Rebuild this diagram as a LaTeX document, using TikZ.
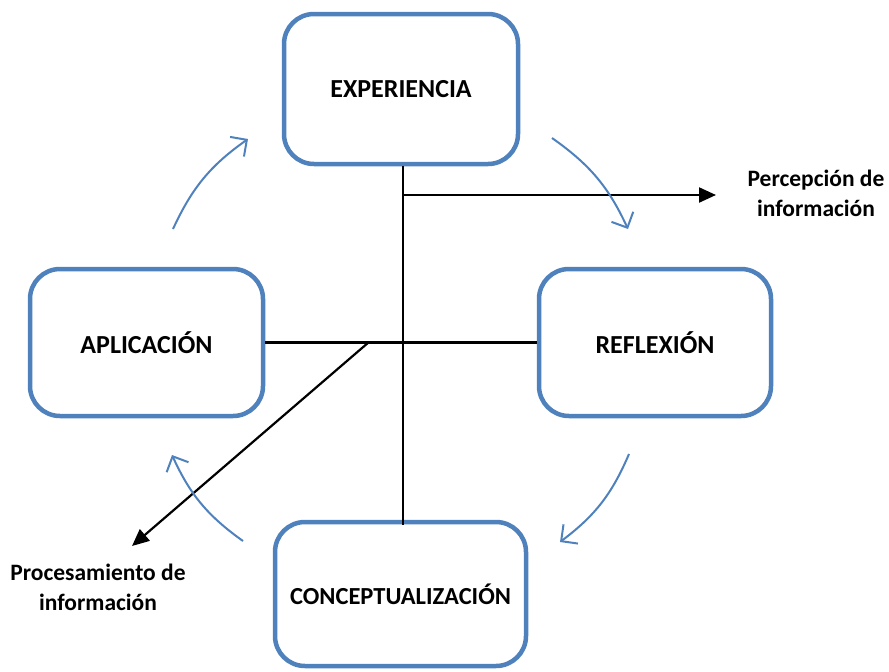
\documentclass[tikz,border=0pt]{standalone}
\usepackage{fontspec}
\setmainfont{Carlito}
\usetikzlibrary{arrows.meta}
\definecolor{boxblue}{RGB}{79,129,189}
\tikzset{
  stagebox/.style={draw=boxblue, line width=4.5pt, rounded corners=30pt, inner sep=0pt,
    font=\fontsize{26}{30}\selectfont\bfseries, fill=white},
  cyclearrow/.style={draw=boxblue, line width=2pt, -{Straight Barb[length=12pt,width=24pt,line width=2pt]}},
  axisline/.style={draw=black, line width=2.2pt},
  outarrow/.style={draw=black, line width=2.2pt, -{Triangle[length=17pt,width=15pt]}},
  sidelabel/.style={font=\fontsize{23.5}{30}\selectfont\bfseries, align=center}
}
\begin{document}
\begin{tikzpicture}[x=1pt,y=-1pt]
\useasboundingbox (0,0) rectangle (889,672);
% boxes
\node[stagebox, minimum width=234pt, minimum height=150pt] (exp) at (401,89) {EXPERIENCIA};
\node[stagebox, minimum width=232pt, minimum height=147pt] (ref) at (655,342.5) {REFLEXIÓN};
\node[stagebox, minimum width=233pt, minimum height=147pt] (apl) at (146.5,342.5) {APLICACIÓN};
\node[stagebox, minimum width=251pt, minimum height=144pt, font=\fontsize{24.5}{30}\selectfont\bfseries] (con) at (400.5,594) {CONCEPTUALIZACIÓN};
% labels
\node[sidelabel] (perc) at (816,193) {Percepción de\\información};
\node[sidelabel] (proc) at (98,587) {Procesamiento de\\información};
% axes
\coordinate (vtop) at (exp.south -| 403,0);
\coordinate (vbot) at (403,525);
\draw[axisline] (vtop) -- (vbot);
\draw[axisline, line width=3pt] (apl.east) -- (ref.west);
\coordinate (hstart) at (403,195);
\coordinate (hend) at (716,195);
\draw[outarrow] (hstart) -- (hend);
\coordinate (dstart) at (369,342);
\coordinate (dend) at (132,546);
\draw[outarrow] (dstart) -- (dend);
% cycle arrows
\coordinate (a1s) at (552,138); \coordinate (a1e) at (628,229);
\coordinate (a2s) at (629,454); \coordinate (a2e) at (560,542);
\coordinate (a3s) at (243,541); \coordinate (a3e) at (172,455);
\coordinate (a4s) at (173,229); \coordinate (a4e) at (248,139);
\draw[cyclearrow] (a1s) to[bend left=15] (a1e);
\draw[cyclearrow] (a2s) to[bend left=15] (a2e);
\draw[cyclearrow] (a3s) to[bend left=15] (a3e);
\draw[cyclearrow] (a4s) to[bend left=15] (a4e);
\end{tikzpicture}
\end{document}
